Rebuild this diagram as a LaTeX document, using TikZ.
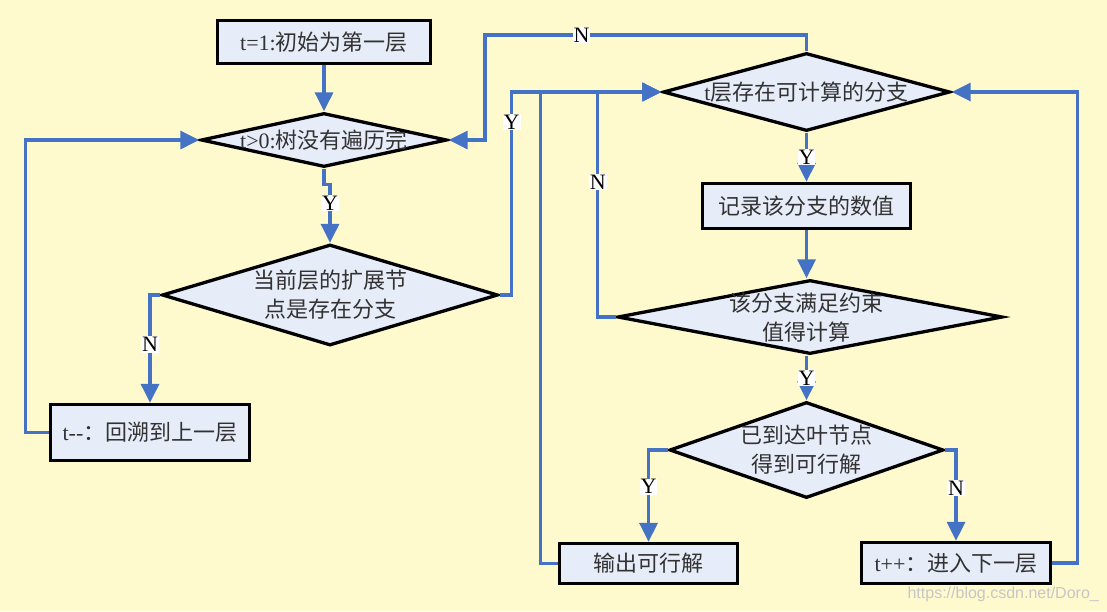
\documentclass[tikz,border=0pt]{standalone}
\usepackage{fontspec}
\setmainfont{Liberation Serif}
\newfontfamily\cjk{Noto Sans CJK SC}
\newfontfamily\wmfont{Liberation Sans}
\usetikzlibrary{arrows.meta,shapes.geometric}
\definecolor{bgyellow}{RGB}{255,250,206}
\definecolor{nodefill}{RGB}{230,237,248}
\definecolor{linkblue}{RGB}{68,114,196}
\definecolor{txt}{RGB}{50,50,50}
\begin{document}
\begin{tikzpicture}[x=1pt,y=-1pt,
  every node/.append style={font=\fontsize{22}{29}\selectfont, text=txt},
  box/.style={draw=black, line width=3.3pt, fill=nodefill, inner sep=0pt},
  dia/.style={draw=black, line width=3.3pt, fill=nodefill, diamond, inner sep=0pt},
  dtext/.style={align=center, inner sep=0pt, font=\fontsize{22}{29}\selectfont\cjk},
  conn/.style={draw=linkblue, line width=3.2pt, -{Triangle[length=19pt,width=18pt]}},
  lab/.style={fill=white, inner sep=1pt, text=black}]
\fill[bgyellow] (0,0) rectangle (1107,611);
\useasboundingbox (0,0) rectangle (1107,611);
% nodes
\node[box, minimum width=213pt, minimum height=43pt] (b1) at (324,42) {t=1:{\cjk 初始为第一层}};
\node[dia, minimum width=246pt, minimum height=54pt] (d1) at (324,140) {};
\node[inner sep=0pt] (d1t) at (d1.center) {t>0:{\cjk 树没有遍历完}};
\node[dia, minimum width=336pt, minimum height=101pt] (d2) at (330,295) {};
\node[dtext] (d2t) at (d2.center) {当前层的扩展节\\点是存在分支};
\node[box, minimum width=199pt, minimum height=56pt] (btm) at (150,432.5) {t-{}-{\cjk ：回溯到上一层}};
\node[dia, minimum width=287pt, minimum height=78pt] (d3) at (806.5,92) {};
\node[inner sep=0pt] (d3t) at (d3.center) {t{\cjk 层存在可计算的分支}};
\node[box, minimum width=208pt, minimum height=45pt] (brec) at (806.5,206) {\cjk 记录该分支的数值};
\node[dia, minimum width=385pt, minimum height=74pt] (d4) at (810,317) {};
\node[dtext] (d4t) at (806.5,318) {该分支满足约束\\值得计算};
\node[dia, minimum width=274pt, minimum height=96pt] (d5) at (806.5,450) {};
\node[dtext] (d5t) at (d5.center) {已到达叶节点\\得到可行解};
\node[box, minimum width=178pt, minimum height=40pt] (bout) at (648.5,563.5) {\cjk 输出可行解};
\node[box, minimum width=189pt, minimum height=41pt] (btpp) at (956,563) {t++{\cjk ：进入下一层}};
\coordinate (c1) at (485,35);
% connectors
\draw[conn] (b1.south) -- (d1.north);
\draw[conn] (d1.south) -- ++(0,16) -| node[lab,pos=0.66]{Y} (d2.north);
\draw[conn] (d2.west) -| node[lab,pos=0.73]{N} (btm.north);
\draw[conn] (btm.west) -- ++(-23,0) |- (d1.west);
\draw[conn] (d2.east) -- ++(12,0) |- node[lab,pos=0.426]{Y} (d3.west);
\draw[conn] (d3.north) |- node[lab,pos=0.85]{N} (c1) |- (d1.east);
\draw[conn] (d3.south) -- node[lab]{Y} (brec.north);
\draw[conn] (brec.south) -- (brec.south |- d4.north);
\draw[conn] (d4.west) -- ++(-18,0) |- node[lab,pos=0.3]{N} (d3.west);
\draw[conn] (d5.north |- d4.south) -- node[lab]{Y} (d5.north);
\draw[conn] (d5.west) -| node[lab,pos=0.7]{Y} (bout.north);
\draw[conn] (d5.east) -| node[lab,pos=0.71]{N} (btpp.north);
\draw[conn] (bout.west) -- ++(-17,0) |- (d3.west);
\draw[conn] (btpp.east) -- ++(25,0) |- (d3.east);
\node[anchor=east, inner sep=0pt, font=\fontsize{16}{16}\selectfont\wmfont, text=gray!45] (wm) at (1099,594) {https://blog.csdn.net/Doro\_};
\end{tikzpicture}
\end{document}
